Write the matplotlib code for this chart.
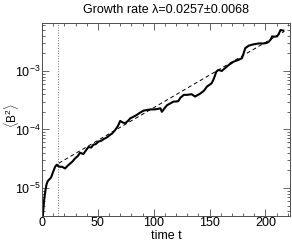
import numpy as np
import matplotlib
matplotlib.use('Agg')
import matplotlib.pyplot as plt
from matplotlib.ticker import MultipleLocator, LogLocator, NullFormatter

plt.rcParams['font.family'] = ['Liberation Sans', 'DejaVu Sans']
plt.rcParams['mathtext.fontset'] = 'custom'
plt.rcParams['mathtext.rm'] = 'Liberation Sans'
plt.rcParams['mathtext.it'] = 'Liberation Sans'

# time series of <B^2>
time = [0, 1, 2, 3, 4, 5, 6.5, 8, 10, 11.7, 13.2, 14.5, 16, 18, 20.6, 23, 25, 27,
        29.6, 32, 34, 37, 39, 41.5, 44, 46, 48, 50.5, 53, 55, 58, 61, 63, 65.5,
        68, 70, 72, 74.4, 77, 79, 82, 85, 88, 91, 94, 97, 101, 104, 106, 107.3,
        110, 112, 115, 118, 120, 122, 124, 127, 130, 134, 137, 141.7, 145, 147.7,
        150, 152, 154, 156, 158, 161, 163, 165.6, 168, 171.6, 174, 176, 179,
        180.5, 182, 185, 189.5, 194, 198.5, 201, 203, 205, 206, 208, 210.5, 212,
        213.5, 216]
b2 = [2.0e-6, 4.0e-6, 6.5e-6, 9.0e-6, 1.15e-5, 1.3e-5, 1.4e-5, 1.5e-5, 1.9e-5,
      2.3e-5, 2.5e-5, 2.35e-5, 2.3e-5, 2.3e-5, 2.15e-5, 2.4e-5, 2.6e-5, 2.8e-5,
      3.2e-5, 3.5e-5, 4.0e-5, 3.8e-5, 4.3e-5, 5.0e-5, 4.9e-5, 5.5e-5, 5.6e-5,
      6.2e-5, 6.4e-5, 6.8e-5, 7.3e-5, 8.1e-5, 8.6e-5, 9.8e-5, 1.15e-4, 1.4e-4,
      1.32e-4, 1.28e-4, 1.4e-4, 1.55e-4, 1.65e-4, 1.78e-4, 1.95e-4, 2.1e-4,
      2.15e-4, 2.2e-4, 2.2e-4, 2.25e-4, 2.3e-4, 2.0e-4, 2.35e-4, 2.6e-4, 2.8e-4,
      3.0e-4, 3.0e-4, 3.05e-4, 3.5e-4, 3.9e-4, 3.9e-4, 4.0e-4, 3.65e-4, 4.1e-4,
      4.6e-4, 5.4e-4, 5.8e-4, 6.2e-4, 7.5e-4, 9.7e-4, 1.04e-3, 1.0e-3, 1.08e-3,
      1.19e-3, 1.3e-3, 1.44e-3, 1.5e-3, 1.55e-3, 1.65e-3, 2.0e-3, 2.45e-3,
      2.7e-3, 2.85e-3, 2.95e-3, 2.95e-3, 3.0e-3, 3.15e-3, 3.5e-3, 3.9e-3,
      3.85e-3, 3.9e-3, 4.3e-3, 5.0e-3, 4.9e-3]

# exponential fit
fit_rate = 0.0257
fit_amp = 1.8e-5
fit_start, fit_end = 15, 217
t_dep = 14.5

fig = plt.figure(figsize=(2.92, 2.42), dpi=100)
ax = fig.add_axes([0.144, 0.107, 0.849, 0.798])

ax.axvline(t_dep, color='0.45', ls=':', lw=0.7)
tf = np.linspace(fit_start, fit_end, 50)
ax.plot(tf, fit_amp * np.exp(fit_rate * tf), 'k--', lw=0.7, dashes=(4, 3))
ax.plot(time, b2, 'k-', lw=1.5)

ax.set_yscale('log')
ax.set_xlim(0, 222)
ax.set_ylim(3.3e-6, 6.6e-3)
ax.xaxis.set_major_locator(MultipleLocator(50))
ax.xaxis.set_minor_locator(MultipleLocator(10))
ax.yaxis.set_major_locator(LogLocator(base=10, numticks=10))
ax.yaxis.set_minor_locator(LogLocator(base=10, subs=np.arange(2, 10), numticks=20))
ax.yaxis.set_minor_formatter(NullFormatter())
ax.tick_params(which='both', direction='in', top=True, right=True,
               labelsize=9, width=0.6, color='0.3', pad=1)
ax.tick_params(which='major', length=5)
ax.tick_params(which='minor', length=2.5)
for s in ax.spines.values():
    s.set_linewidth(0.7)
    s.set_color('0.3')

ax.set_xlabel('time t', fontsize=9)
ax.xaxis.set_label_coords(0.5, -0.072)
ax.set_ylabel(r'$\langle \mathrm{B}^2 \rangle$', fontsize=8.5)
ax.yaxis.set_label_coords(-0.085, 0.52)
ax.set_title('Growth rate λ=0.0257±0.0068', fontsize=9, pad=7)

fig.savefig('out.png', dpi=100)
